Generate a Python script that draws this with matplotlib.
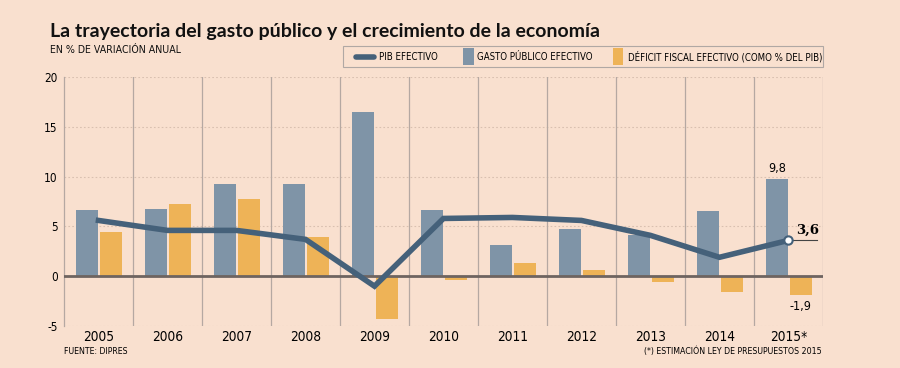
import matplotlib
matplotlib.use('Agg')
import matplotlib.pyplot as plt
import numpy as np

years = ['2005', '2006', '2007', '2008', '2009', '2010', '2011', '2012', '2013', '2014', '2015*']
pib = [5.6, 4.6, 4.6, 3.7, -1.0, 5.8, 5.9, 5.6, 4.1, 1.9, 3.6]
gasto = [6.6, 6.7, 9.3, 9.3, 16.5, 6.6, 3.1, 4.7, 4.1, 6.5, 9.8]
deficit = [4.4, 7.3, 7.8, 3.9, -4.3, -0.4, 1.3, 0.6, -0.6, -1.6, -1.9]
yticks = [-5, 0, 5, 10, 15, 20]

bg = '#f9e0cf'
c_gasto = '#7f94a7'
c_def = '#eeb357'
c_pib = '#45617a'

# fuente condensada para los textos pequeños
nar = dict(family='DejaVu Sans', fontstretch='condensed')

fig = plt.figure(figsize=(9, 3.68), dpi=100, facecolor=bg)
ax = fig.add_axes([0.0711, 0.1141, 0.8433, 0.6766])
ax.set_facecolor(bg)

x = np.arange(len(years))
w = 0.31
ax.bar(x - 0.165, gasto, width=w, color=c_gasto, zorder=3)
ax.bar(x + 0.18, deficit, width=w, color=c_def, zorder=3)
ax.plot(x, pib, color=c_pib, lw=4, zorder=5, solid_joinstyle='miter')
ax.plot(x[-1], pib[-1], 'o', ms=6, mfc='white', mec=c_pib, mew=1.5, zorder=6)

ax.set_xlim(-0.5, len(years) - 0.5)
ax.set_ylim(-5, 20)
ax.axhline(0, color='#6e6460', lw=2, zorder=4)
for yv in [5, 10, 15, 20, -5]:
    ax.axhline(yv, color='#d9c0b0', lw=0.8, ls=(0, (1.5, 2)), zorder=1)
for xv in np.arange(0.5, len(years) - 0.5, 1.0):
    ax.axvline(xv, color='#b5a8a2', lw=0.9, zorder=1)
ax.axvline(len(years) - 0.5, color='#b5a8a2', lw=0.9, zorder=1)

for s in ['top', 'right', 'bottom']:
    ax.spines[s].set_visible(False)
ax.spines['left'].set_color('#b5a8a2')
ax.spines['left'].set_linewidth(0.9)
ax.set_yticks(yticks)
ax.set_yticklabels([str(v) for v in yticks], fontsize=8.5, **nar)
ax.tick_params(axis='y', length=0, pad=4.5)
ax.set_xticks(x)
ax.set_xticklabels(years, fontsize=9.8, **nar)
ax.tick_params(axis='x', length=0, pad=3)

# anotaciones 2015
ax.text(x[-1] - 0.165, gasto[-1] + 0.4, '9,8', ha='center', va='bottom', fontsize=9, **nar)
ax.text(x[-1] + 0.18, deficit[-1] - 0.5, '-1,9', ha='center', va='top', fontsize=9, **nar)
ax.plot([x[-1], x[-1] + 0.42], [pib[-1], pib[-1]], color='#444444', lw=0.8, zorder=4)
ax.text(x[-1] + 0.275, pib[-1] + 0.35, '3,6', ha='center', va='bottom', fontsize=9.5,
        fontweight='bold', family='DejaVu Serif')

# títulos
fig.text(0.055, 0.9, 'La trayectoria del gasto público y el crecimiento de la economía',
         fontsize=14, fontweight='bold', color='#111111', va='baseline', family='Lato')
fig.text(0.055, 0.856, 'EN % DE VARIACIÓN ANUAL', fontsize=7.6, color='#111111',
         va='baseline', **nar)

# leyenda
lx0, lx1, ly0, ly1 = 343 / 900, 823 / 900, 1 - 67 / 368, 1 - 46 / 368
fig.patches.append(plt.Rectangle((lx0, ly0), lx1 - lx0, ly1 - ly0, transform=fig.transFigure,
                                 facecolor='none', edgecolor='#b0a8a4', lw=0.8))
ym = (ly0 + ly1) / 2
fig.add_artist(plt.Line2D([356 / 900, 374 / 900], [ym, ym], color=c_pib, lw=4,
                          solid_capstyle='round'))
fig.text(379 / 900, ym, 'PIB EFECTIVO', fontsize=6.9, va='center', **nar)
fig.patches.append(plt.Rectangle((463 / 900, ym - 0.022), 11 / 900, 0.044,
                                 transform=fig.transFigure, facecolor=c_gasto, edgecolor='none'))
fig.text(477 / 900, ym, 'GASTO PÚBLICO EFECTIVO', fontsize=6.9, va='center', **nar)
fig.patches.append(plt.Rectangle((613 / 900, ym - 0.022), 10 / 900, 0.044,
                                 transform=fig.transFigure, facecolor=c_def, edgecolor='none'))
fig.text(628 / 900, ym, 'DÉFICIT FISCAL EFECTIVO (COMO % DEL PIB)', fontsize=6.9, va='center',
         **nar)

# pie
fig.text(64 / 900, 1 - 351 / 368, 'FUENTE: DIPRES', fontsize=6.3, va='center', **nar)
fig.text(822 / 900, 1 - 351 / 368, '(*) ESTIMACIÓN LEY DE PRESUPUESTOS 2015', fontsize=6.3,
         va='center', ha='right', **nar)

fig.savefig('out.png', dpi=100, facecolor=bg)
